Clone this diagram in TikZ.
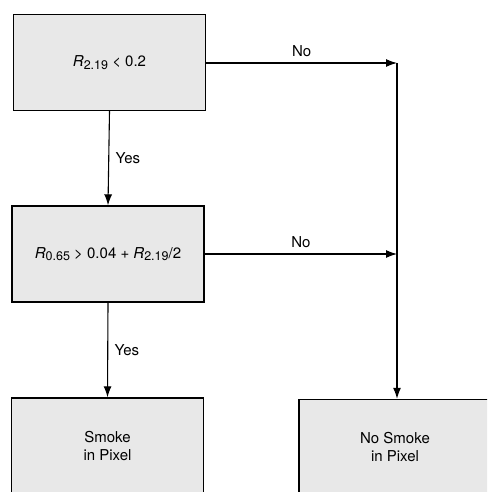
\documentclass[tikz,border=0pt]{standalone}
\usepackage{fontspec}
\setmainfont{TeX Gyre Heros}
\usetikzlibrary{arrows.meta}
\newcommand{\mysubs}[1]{\raisebox{-0.35ex}{\fontsize{12.5}{14}\selectfont #1}}
\tikzset{
  box/.style={draw=black, line width=1.4pt, fill=black!9, minimum width=192pt, minimum height=96pt, inner sep=0pt, align=center, font=\fontsize{15}{18}\selectfont},
  conn/.style={draw=black, line width=1.1pt},
  arr/.style={conn, -{Latex[length=11pt,width=8pt]}},
  lbl/.style={font=\fontsize{15}{18}\selectfont}
}
\begin{document}
\begin{tikzpicture}[x=1pt,y=-1pt]
\useasboundingbox (0,0) rectangle (487,492);
\clip (0,0) rectangle (487,492);
\node[box] (c1) at (109.5,62.5) {\textit{R}\mysubs{2.19} < 0.2};
\node[box] (c2) at (108,254) {\textit{R}\mysubs{0.65} > 0.04 + \textit{R}\mysubs{2.19}/2};
\node[box] (smoke) at (107.5,446) {Smoke\\in Pixel};
\node[box] (nosmoke) at (395,447.5) {No Smoke\\in Pixel};
\coordinate (j1) at (397,63);
\coordinate (j2) at (397,254);
\draw[arr] (c1.south) -- node[lbl, right=3pt, pos=0.5] (y1) {Yes} (c2.north);
\draw[arr] (c2.south) -- node[lbl, right=3pt, pos=0.5] (y2) {Yes} (smoke.north);
\draw[arr] (c1.east |- j1) -- node[lbl, above=2pt, pos=0.5] (n1) {No} (j1);
\draw[arr] (c2.east |- j2) -- node[lbl, above=2pt, pos=0.5] (n2) {No} (j2);
\draw[arr] (j1) -- (nosmoke.north -| j1);
\end{tikzpicture}
\end{document}
